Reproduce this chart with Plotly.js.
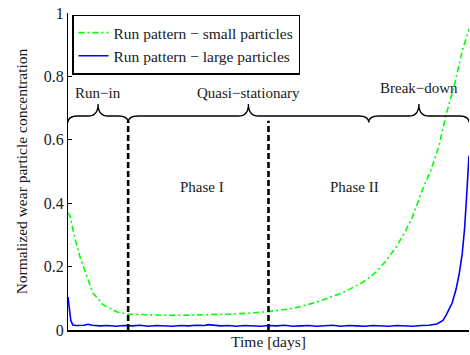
<!DOCTYPE html>
<html>
<head>
<meta charset="utf-8">
<script src="https://cdn.plot.ly/plotly-3.0.1.min.js"></script>
<style>html,body{margin:0;padding:0;background:#fff;}#chart{width:470px;height:355px;}</style>
</head>
<body>
<div id="chart"></div>
<script>
// Small particles (green, dash-dot)
var smallT = [0, 0.5, 1, 1.7, 3, 4.7, 6.2, 8.7, 12.2, 15, 20, 25, 30, 35, 40, 45, 50, 55, 57.7, 62, 66, 68.4, 72, 74.4, 77, 79.4, 82, 84.3, 86, 88.3, 90.5, 92.5, 94.3, 96.3, 98.3, 100];
var smallY = [0.37, 0.36, 0.33, 0.29, 0.23, 0.167, 0.117, 0.08, 0.057, 0.05, 0.047, 0.046, 0.047, 0.048, 0.05, 0.053, 0.058, 0.066, 0.073, 0.088, 0.105, 0.117, 0.14, 0.158, 0.185, 0.22, 0.265, 0.315, 0.36, 0.44, 0.505, 0.58, 0.68, 0.77, 0.88, 0.95];

// Large particles (blue, solid)
var largeT = [0, 0.3, 0.7, 1.2, 2, 4, 5, 6, 8, 10, 12, 14, 16, 18, 20, 22, 24, 26, 28, 30, 32, 34, 35, 36, 38, 40, 42, 44, 46, 48, 50, 52, 54, 56, 58, 60, 62, 64, 66, 68, 70, 72, 74, 76, 78, 80, 82, 84, 86, 88, 90, 92, 93.5, 94.3, 95.2, 95.8, 96.8, 97.6, 98.3, 98.9, 99.3, 100];
var largeY = [0.104, 0.07, 0.03, 0.016, 0.014, 0.015, 0.018, 0.015, 0.013, 0.014, 0.012, 0.014, 0.013, 0.015, 0.012, 0.014, 0.013, 0.012, 0.014, 0.013, 0.015, 0.014, 0.017, 0.015, 0.013, 0.014, 0.012, 0.014, 0.013, 0.012, 0.014, 0.013, 0.015, 0.012, 0.013, 0.014, 0.012, 0.013, 0.015, 0.012, 0.014, 0.013, 0.012, 0.014, 0.013, 0.012, 0.014, 0.013, 0.012, 0.014, 0.015, 0.019, 0.03, 0.047, 0.07, 0.085, 0.13, 0.18, 0.24, 0.32, 0.4, 0.55];

var seriesNames = ['Run pattern \u2212 small particles', 'Run pattern \u2212 large particles'];

// Stages and phase boundaries
var stageBounds = [0, 15, 75, 100];
var stageNames = ['Run\u2212in', 'Quasi\u2212stationary', 'Break\u2212down'];
var phaseLines = [15, 50];
var phaseNames = ['Phase I', 'Phase II'];
var phaseLabelX = [33.5, 71.5];

var yTicks = [0, 0.2, 0.4, 0.6, 0.8, 1];
var yTickText = ['0', '0.2', '0.4', '0.6', '0.8', '1'];

var FONT = '"Liberation Serif", "Times New Roman", serif';
var TXT = '#1a1a1a';

var traces = [
  {x: smallT, y: smallY, name: seriesNames[0], type: 'scatter', mode: 'lines',
   line: {color: '#00ff00', width: 1.6, dash: '6px,3px,2px,3px'}},
  {x: largeT, y: largeY, name: seriesNames[1], type: 'scatter', mode: 'lines',
   line: {color: '#0000ff', width: 1.6}}
];

// braces
var yb = 0.675, yEnd = 0.655, yTip = 0.713, r = 2.5;
function bracePath(x0, x1) {
  var xm = (x0 + x1) / 2;
  return 'M' + x0 + ',' + yEnd +
    ' Q' + x0 + ',' + yb + ' ' + (x0 + r) + ',' + yb +
    ' L' + (xm - r) + ',' + yb +
    ' Q' + xm + ',' + yb + ' ' + xm + ',' + yTip +
    ' Q' + xm + ',' + yb + ' ' + (xm + r) + ',' + yb +
    ' L' + (x1 - r) + ',' + yb +
    ' Q' + x1 + ',' + yb + ' ' + x1 + ',' + yEnd;
}
var shapes = [];
var annotations = [];
for (var i = 0; i < stageNames.length; i++) {
  shapes.push({type: 'path', xref: 'x', yref: 'y', path: bracePath(stageBounds[i], stageBounds[i + 1]),
    line: {color: 'black', width: 1.3}});
  annotations.push({x: (stageBounds[i] + stageBounds[i + 1]) / 2, y: (i === 2 ? 0.762 : 0.748), xref: 'x', yref: 'y',
    text: stageNames[i], showarrow: false, font: {family: FONT, size: 15, color: TXT}});
}
for (var j = 0; j < phaseLines.length; j++) {
  shapes.push({type: 'line', xref: 'x', yref: 'y', x0: phaseLines[j], x1: phaseLines[j], y0: 0, y1: 0.66,
    line: {color: 'black', width: 2.6, dash: '6px,3px'}});
  annotations.push({x: phaseLabelX[j], y: 0.451, xref: 'x', yref: 'y', text: phaseNames[j], showarrow: false,
    font: {family: FONT, size: 15, color: TXT}});
}

var layout = {
  width: 470, height: 355,
  margin: {l: 68, r: 1, t: 13, b: 25},
  paper_bgcolor: 'white', plot_bgcolor: 'white',
  font: {family: FONT, size: 15, color: TXT},
  showlegend: true,
  legend: {x: 0.01, y: 0.995, xanchor: 'left', yanchor: 'top', bgcolor: 'white',
    bordercolor: 'black', borderwidth: 1.5, font: {family: FONT, size: 15.5, color: TXT},
    tracegroupgap: 0, itemwidth: 30},
  xaxis: {range: [0, 100], showgrid: false, zeroline: false, showline: true, linecolor: 'black', linewidth: 1.5,
    showticklabels: false, ticks: '', fixedrange: true,
    title: {text: 'Time [days]', font: {family: FONT, size: 15.5, color: TXT}, standoff: 5}},
  yaxis: {range: [0, 1], showgrid: false, zeroline: false, showline: true, linecolor: 'black', linewidth: 1,
    tickvals: yTicks, ticktext: yTickText, ticks: 'inside', ticklen: 4, tickcolor: 'black',
    tickfont: {family: FONT, size: 16, color: TXT},
    title: {text: 'Normalized wear particle concentration', font: {family: FONT, size: 15.5, color: TXT}, standoff: 12}},
  shapes: shapes,
  annotations: annotations
};

Plotly.newPlot('chart', traces, layout, {displayModeBar: false, staticPlot: true});
</script>
</body>
</html>
